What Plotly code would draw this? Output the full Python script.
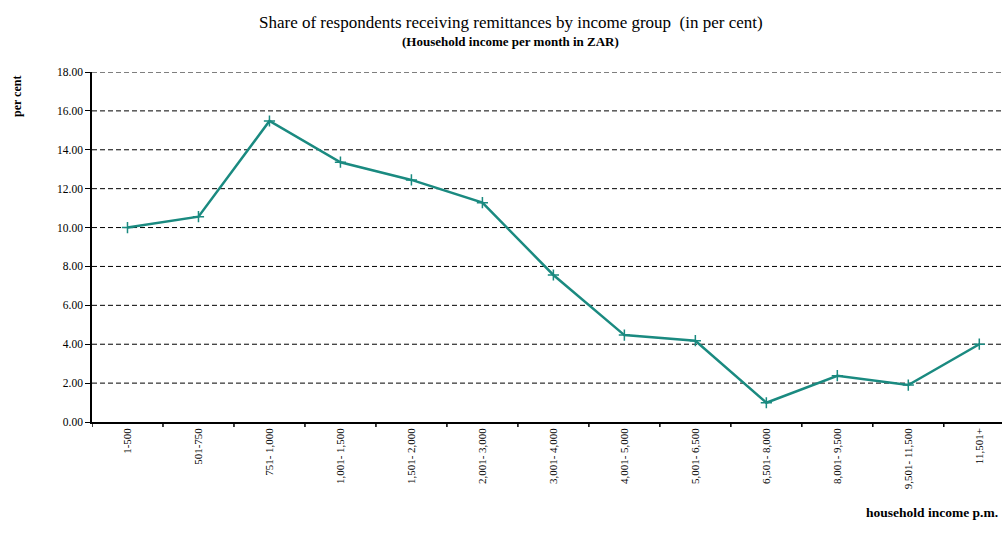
import plotly.graph_objects as go

categories = ["1-500", "501-750", "751- 1,000", "1,001- 1,500", "1,501- 2,000",
              "2,001- 3,000", "3,001- 4,000", "4,001- 5,000", "5,001- 6,500",
              "6,501- 8,000", "8,001- 9,500", "9,501- 11,500", "11,501+"]
share = [10.0, 10.56, 15.48, 13.36, 12.45, 11.28, 7.56, 4.47, 4.18, 0.99, 2.38, 1.90, 4.0]
y_ticks = [0, 2, 4, 6, 8, 10, 12, 14, 16, 18]

SERIF = "Liberation Serif, Times New Roman, serif"
TEAL = "#1a8a80"
X_MAX = 12.32

fig = go.Figure()
fig.add_trace(go.Scatter(
    x=list(range(len(categories))), y=share, mode="lines+markers",
    line=dict(color=TEAL, width=2.5),
    marker=dict(symbol="cross-thin", size=8, line=dict(color=TEAL, width=1.5)),
    showlegend=False,
))

for v in y_ticks[1:]:
    fig.add_shape(type="line", xref="paper", yref="y", x0=0, x1=1, y0=v, y1=v,
                  line=dict(color="black", width=1, dash="5px,3px"), layer="below")

fig.update_layout(
    width=1002, height=548,
    margin=dict(l=92, r=0, t=72, b=126),
    paper_bgcolor="white", plot_bgcolor="white",
    font=dict(family=SERIF, color="black", size=11),
    xaxis=dict(
        range=[-0.5, X_MAX],
        tickmode="array", tickvals=list(range(len(categories))), ticktext=categories,
        tickangle=-90, showgrid=False, zeroline=False,
        showline=True, linecolor="black", linewidth=1.5,
        ticks="", tickfont=dict(size=11, family=SERIF),
    ),
    yaxis=dict(
        range=[0, 18], tickmode="array", tickvals=y_ticks, tickformat=".2f",
        showgrid=False, zeroline=False,
        showline=True, linecolor="black", linewidth=1.5,
        ticks="outside", ticklen=5, tickcolor="black",
        tickfont=dict(size=11.5, family=SERIF),
    ),
    annotations=[
        dict(text="Share of respondents receiving remittances by income group  (in per cent)",
             xref="paper", yref="paper", x=0.46, y=1.0, yshift=50, showarrow=False,
             font=dict(size=17, family=SERIF), xanchor="center", yanchor="middle"),
        dict(text="<b>(Household income per month in ZAR)</b>",
             xref="paper", yref="paper", x=0.46, y=1.0, yshift=31, showarrow=False,
             font=dict(size=13, family=SERIF), xanchor="center", yanchor="middle"),
        dict(text="<b>per cent</b>", textangle=-90,
             xref="paper", yref="paper", x=0, xshift=-75, y=1.0, yshift=-25, showarrow=False,
             font=dict(size=12, family=SERIF), xanchor="center", yanchor="middle"),
        dict(text="<b>household income p.m.</b>",
             xref="paper", yref="paper", x=1.0, xshift=-2, y=0, yshift=-90, showarrow=False,
             font=dict(size=13.5, family=SERIF), xanchor="right", yanchor="middle"),
    ],
)

# category boundary ticks on x axis
for i in range(-1, len(categories)):
    b = i + 0.5
    if b <= X_MAX:
        fig.add_shape(type="line", xref="x", yref="paper", x0=b, x1=b, y0=0, y1=-0.014,
                      line=dict(color="black", width=1.5))

fig.write_html("out.html")
